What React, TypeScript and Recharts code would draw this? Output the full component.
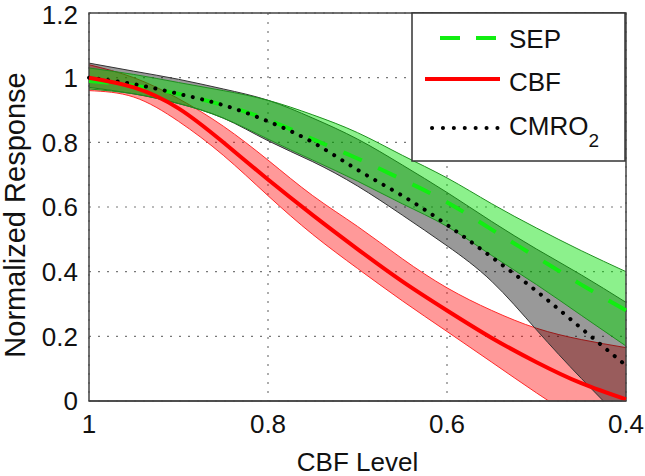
import React from "react";
import {
  ComposedChart,
  Area,
  Line,
  XAxis,
  YAxis,
  CartesianGrid,
  ReferenceArea,
} from "recharts";

const FONT = "'Liberation Sans', Arial, Helvetica, sans-serif";

// CBF level (x axis runs from 1 down to 0.4)
const cbfLevel = [1.0, 0.95, 0.9, 0.85, 0.8, 0.75, 0.7, 0.65, 0.6, 0.55, 0.5, 0.45, 0.4];

// SEP response and its band
const sepMean = [0.99, 0.975, 0.95, 0.915, 0.87, 0.81, 0.75, 0.685, 0.615, 0.53, 0.445, 0.36, 0.28];
const sepLow = [0.965, 0.95, 0.92, 0.875, 0.81, 0.745, 0.68, 0.61, 0.54, 0.45, 0.36, 0.265, 0.17];
const sepHigh = [1.03, 1.01, 0.985, 0.96, 0.93, 0.885, 0.83, 0.76, 0.69, 0.61, 0.535, 0.465, 0.4];

// CBF response and its band
const cbfMean = [1.0, 0.97, 0.905, 0.8, 0.685, 0.575, 0.47, 0.37, 0.28, 0.195, 0.12, 0.055, 0.005];
const cbfLow = [0.96, 0.94, 0.865, 0.76, 0.635, 0.515, 0.41, 0.31, 0.215, 0.12, 0.025, -0.065, -0.15];
const cbfHigh = [1.04, 1.0, 0.935, 0.85, 0.745, 0.635, 0.54, 0.44, 0.35, 0.28, 0.225, 0.19, 0.165];

// CMRO2 response and its band
const cmroMean = [1.0, 0.98, 0.95, 0.915, 0.865, 0.8, 0.715, 0.635, 0.545, 0.445, 0.34, 0.225, 0.11];
const cmroLow = [0.97, 0.95, 0.92, 0.875, 0.805, 0.74, 0.665, 0.575, 0.48, 0.37, 0.22, 0.07, -0.07];
const cmroHigh = [1.045, 1.02, 0.995, 0.965, 0.93, 0.875, 0.81, 0.73, 0.645, 0.555, 0.47, 0.39, 0.305];

const xTicks = [1, 0.8, 0.6, 0.4];
const yTicks = [0, 0.2, 0.4, 0.6, 0.8, 1, 1.2];

const data = cbfLevel.map((x, i) => ({
  x,
  sep: sepMean[i],
  sepBand: [sepLow[i], sepHigh[i]],
  cbf: cbfMean[i],
  cbfBand: [cbfLow[i], cbfHigh[i]],
  cmro: cmroMean[i],
  cmroBand: [cmroLow[i], cmroHigh[i]],
}));

const YTitle = (props: any) => {
  const vb = props.viewBox || {};
  const cy = vb.y + vb.height / 2 + 8;
  return (
    <text
      transform={`translate(15, ${cy}) rotate(-90)`}
      textAnchor="middle"
      dominantBaseline="central"
      fontFamily={FONT}
      fontSize={29}
      fill="#111"
    >
      Normalized Response
    </text>
  );
};

const LegendBox = () => (
  <svg
    width={215}
    height={150}
    style={{ position: "absolute", left: 411, top: 12, fontFamily: FONT }}
  >
    <rect x={1} y={1} width={213} height={148} fill="#fff" stroke="#333" strokeWidth={1.5} />
    <line x1={29} x2={85} y1={26} y2={26} stroke="#11ee11" strokeWidth={4} strokeDasharray="20 16" />
    <text x={98} y={36} fontSize={26} fill="#111">SEP</text>
    <line x1={14} x2={89} y1={67} y2={67} stroke="#ff0000" strokeWidth={4} />
    <text x={98} y={79} fontSize={26} fill="#111">CBF</text>
    <line
      x1={21}
      x2={87}
      y1={116}
      y2={116}
      stroke="#000"
      strokeWidth={4}
      strokeLinecap="round"
      strokeDasharray="0.1 10.8"
    />
    <text x={98} y={123} fontSize={26} fill="#111">
      CMRO<tspan dy={12} fontSize={19}>2</tspan>
    </text>
  </svg>
);

export default function App() {
  return (
    <div style={{ position: "absolute", left: 0, top: 0, width: 645, height: 476, background: "#fff" }}>
      <ComposedChart
        width={645}
        height={476}
        data={data}
        margin={{ top: 13, right: 19, bottom: 0, left: 0 }}
      >
        <CartesianGrid stroke="#777" strokeDasharray="2 7" strokeWidth={1.2} />
        <XAxis
          dataKey="x"
          type="number"
          domain={[0.4, 1]}
          reversed
          ticks={xTicks}
          tickFormatter={(v) => String(v)}
          height={75}
          axisLine={{ stroke: "#444", strokeWidth: 1.5 }}
          tickLine={false}
          tickSize={6}
          tickMargin={8}
          tick={{ fontSize: 26, fill: "#111", fontFamily: FONT }}
          label={{
            value: "CBF Level",
            position: "insideBottom",
            offset: 5,
            style: { fontSize: 26, fill: "#111", fontFamily: FONT },
          }}
        />
        <YAxis
          type="number"
          domain={[0, 1.2]}
          allowDataOverflow
          ticks={yTicks}
          tickFormatter={(v) => String(v)}
          width={89}
          axisLine={false}
          tickLine={false}
          tickSize={6}
          tickMargin={5}
          tick={{ fontSize: 26, fill: "#111", fontFamily: FONT }}
          label={{ content: YTitle }}
        />
        <Area
          type="natural"
          dataKey="cbfBand"
          fill="#ff0000"
          fillOpacity={0.4}
          stroke="#ff2a2a"
          strokeWidth={1}
          isAnimationActive={false}
        />
        <Area
          type="natural"
          dataKey="cmroBand"
          fill="#000"
          fillOpacity={0.4}
          stroke="#333"
          strokeWidth={1}
          isAnimationActive={false}
        />
        <Area
          type="natural"
          dataKey="sepBand"
          fill="#00e000"
          fillOpacity={0.45}
          stroke="#1f8f1f"
          strokeWidth={1}
          isAnimationActive={false}
        />
        <Line
          type="natural"
          dataKey="sep"
          stroke="#11ee11"
          strokeWidth={4}
          strokeDasharray="20 18"
          dot={false}
          isAnimationActive={false}
        />
        <Line
          type="natural"
          dataKey="cmro"
          stroke="#000"
          strokeWidth={4}
          strokeLinecap="round"
          strokeDasharray="0.1 9.5"
          dot={false}
          isAnimationActive={false}
        />
        <Line
          type="natural"
          dataKey="cbf"
          stroke="#ff0000"
          strokeWidth={4}
          dot={false}
          isAnimationActive={false}
        />
        <ReferenceArea
          x1={1}
          x2={0.4}
          y1={0}
          y2={1.2}
          fill="none"
          stroke="#444"
          strokeWidth={1.5}
          ifOverflow="visible"
        />
      </ComposedChart>
      <LegendBox />
    </div>
  );
}
